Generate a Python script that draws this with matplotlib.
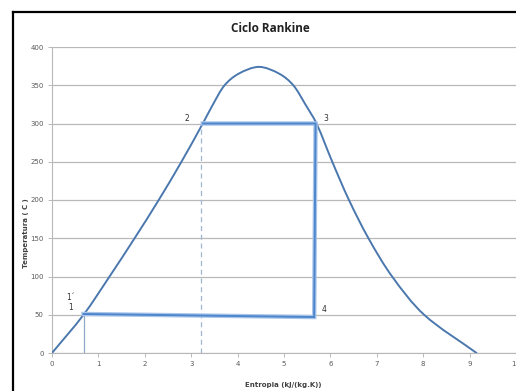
import matplotlib
matplotlib.use("Agg")
import matplotlib.pyplot as plt
from matplotlib.lines import Line2D
from matplotlib.path import Path
from matplotlib.patches import PathPatch

# ---- data ----
dome_s = [0.0, 0.68, 1.24, 1.78, 2.30, 2.79, 3.25, 3.47, 3.72, 4.02, 4.46, 4.90, 5.20, 5.46, 5.70, 6.04, 6.40, 6.82, 7.33, 8.02, 9.15]
dome_T = [0, 50, 100, 150, 200, 250, 300, 325, 350, 365, 374, 365, 350, 325, 300, 250, 200, 150, 100, 50, 0]

cycle_s = [0.68, 5.65, 5.68, 3.25]
cycle_T = [51, 47, 300, 300]

v1_s = [0.68, 0.68]
v1_T = [0, 51]
v2_s = [3.22, 3.22]
v2_T = [0, 300]

point_labels = ["1´", "1", "2", "3", "4"]
label_s = [0.39, 0.39, 2.91, 5.90, 5.86]
label_T = [73, 59, 306, 306, 57]

x_ticks = list(range(0, 11))
y_ticks = list(range(0, 401, 50))

W, H = 516, 391
fig = plt.figure(figsize=(W / 100, H / 100), dpi=100)
fig.patch.set_facecolor("white")

ax = fig.add_axes([52 / W, (H - 353) / H, (516 - 52) / W, (353 - 47) / H])
ax.set_xlim(0, 10)
ax.set_ylim(0, 400)


def smooth_path(ax, xs, ys):
    """Smoothed line through the points (chord-length Catmull-Rom as cubic Bezier),
    computed in display space so the curve looks like a spreadsheet smoothed line."""
    tr = ax.transData
    pts = tr.transform(list(zip(xs, ys)))
    n = len(pts)
    d = [((pts[i + 1][0] - pts[i][0]) ** 2 + (pts[i + 1][1] - pts[i][1]) ** 2) ** 0.5 for i in range(n - 1)]
    tang = []
    for i in range(n):
        if i == 0:
            m = (pts[1] - pts[0]) / d[0]
        elif i == n - 1:
            m = (pts[-1] - pts[-2]) / d[-1]
        else:
            m = (pts[i + 1] - pts[i - 1]) / (d[i - 1] + d[i])
        tang.append(m)
    verts = [pts[0]]
    codes = [Path.MOVETO]
    for i in range(n - 1):
        c1 = pts[i] + tang[i] * d[i] / 3.0
        c2 = pts[i + 1] - tang[i + 1] * d[i] / 3.0
        verts += [c1, c2, pts[i + 1]]
        codes += [Path.CURVE4] * 3
    inv = tr.inverted()
    return Path(inv.transform(verts), codes)


grid_c = "#b8b8b8"
for s in ["top", "right"]:
    ax.spines[s].set_visible(False)
for s in ["left", "bottom"]:
    ax.spines[s].set_color(grid_c)
    ax.spines[s].set_linewidth(0.8)

ax.set_yticks(y_ticks)
ax.set_xticks(x_ticks)
ax.tick_params(axis="both", direction="out", length=3, width=0.7, color=grid_c,
               labelsize=5, labelcolor="#5a5a5a", pad=3)
ax.yaxis.grid(True, color=grid_c, linewidth=0.9)
ax.set_axisbelow(True)

# vertical guide lines
ax.plot(v1_s, v1_T, color="#8ea8c6", linewidth=0.9)
ax.plot(v2_s, v2_T, color="#9fb6d0", linewidth=0.9, linestyle=(0, (4, 3)))

# saturation dome (smoothed line through the read points)
dome = PathPatch(smooth_path(ax, dome_s, dome_T), facecolor="none", edgecolor="#4a78ae",
                 linewidth=1.4, capstyle="round", joinstyle="round", zorder=3)
ax.add_patch(dome)

# Rankine cycle lines (glow + core)
ax.plot(cycle_s, cycle_T, color="#a9c5ea", linewidth=3.2, solid_joinstyle="miter", zorder=4)
ax.plot(cycle_s, cycle_T, color="#4d86cc", linewidth=1.4, solid_joinstyle="miter", zorder=4)

for t, s, T in zip(point_labels, label_s, label_T):
    ax.text(s, T, t, fontsize=5.5, color="#303030", ha="center", va="center")

ax.set_xlabel("Entropia (kJ/(kg.K))", fontsize=5, fontweight="bold", color="#404040")
ax.xaxis.set_label_coords((283 - 52) / 464, (353 - 382) / 306)
ax.set_ylabel("Temperatura ( C )", fontsize=5, fontweight="bold", color="#404040")
ax.yaxis.set_label_coords((29 - 52) / 464, (353 - 233) / 306)

fig.text(270 / W, 1 - 29 / H, "Ciclo Rankine", fontsize=8.5, fontweight="bold",
         family=["Open Sans", "DejaVu Sans"], ha="center", va="center", color="#222222")

# black frame on top and left (screenshot border)
fig.add_artist(Line2D([12.5 / W, 12.5 / W], [0, 1 - 12 / H], transform=fig.transFigure,
                      color="black", linewidth=1.6))
fig.add_artist(Line2D([12.5 / W, 1], [1 - 12 / H, 1 - 12 / H], transform=fig.transFigure,
                      color="black", linewidth=1.6))

fig.savefig("out.png", dpi=100, facecolor="white")
